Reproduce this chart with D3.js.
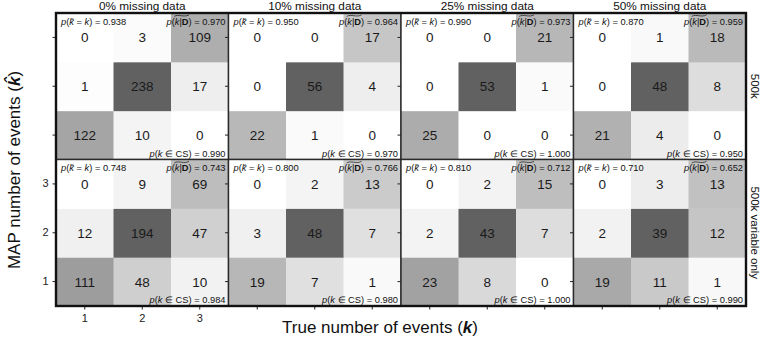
<!DOCTYPE html>
<html><head><meta charset="utf-8">
<script src="https://cdn.jsdelivr.net/npm/d3@7/dist/d3.min.js"></script>
<style>body{margin:0;background:#fff}svg{display:block}</style>
</head><body><svg id="c" width="760" height="340"></svg>
<script>
// ---- data ----
const missingLevels = ["0% missing data", "10% missing data", "25% missing data", "50% missing data"];
const rowLabels = ["500k", "500k variable only"];
const kValues = [1, 2, 3];
const tickLabels = ["1", "2", "3"];
// counts[panel][khat-1][k-1]
const counts500k = [
  [[122, 10, 0], [1, 238, 17], [0, 3, 109]],
  [[22, 1, 0], [0, 56, 4], [0, 0, 17]],
  [[25, 0, 0], [0, 53, 1], [0, 0, 21]],
  [[21, 4, 0], [0, 48, 8], [0, 1, 18]]
];
const countsVarOnly = [
  [[111, 48, 10], [12, 194, 47], [0, 9, 69]],
  [[19, 7, 1], [3, 48, 7], [0, 2, 13]],
  [[23, 8, 0], [2, 43, 7], [0, 2, 15]],
  [[19, 11, 1], [2, 39, 12], [0, 3, 13]]
];
const pExact500k = ["0.938", "0.950", "0.990", "0.870"];
const pMode500k = ["0.970", "0.964", "0.973", "0.959"];
const pCS500k = ["0.990", "0.970", "1.000", "0.950"];
const pExactVarOnly = ["0.748", "0.800", "0.810", "0.710"];
const pModeVarOnly = ["0.743", "0.766", "0.712", "0.652"];
const pCSVarOnly = ["0.984", "0.980", "1.000", "0.990"];

const rows = [
  {label: rowLabels[0], counts: counts500k, pe: pExact500k, pm: pMode500k, pc: pCS500k},
  {label: rowLabels[1], counts: countsVarOnly, pe: pExactVarOnly, pm: pModeVarOnly, pc: pCSVarOnly}
];

// ---- layout ----
const svg = d3.select("#c");
const L = 56, R = 746, T = 13, B = 306;
const colX = d3.scaleBand().domain(d3.range(missingLevels.length)).range([L, R]);
const rowY = d3.scaleBand().domain(d3.range(rows.length)).range([T, B]);
const pw = colX.bandwidth(), ph = rowY.bandwidth();
const cx = d3.scaleBand().domain(kValues).range([0, pw]);
const cy = d3.scaleBand().domain([3, 2, 1]).range([0, ph]);
const numFont = "'Liberation Sans', Arial, sans-serif";
const smallFont = "'Liberation Sans', Arial, sans-serif";
const aSize = 9.3;

rows.forEach((row, ri) => {
  row.counts.forEach((mat, pi) => {
    const g = svg.append("g").attr("transform", `translate(${colX(pi)},${rowY(ri)})`);
    const max = d3.max(mat.flat());
    const col = d3.scalePow().exponent(0.85).domain([0, max]).range([255, 97]);
    const cells = [];
    mat.forEach((r, i) => r.forEach((v, j) => cells.push({kh: kValues[i], k: kValues[j], v})));
    g.selectAll("rect.cell").data(cells).join("rect")
      .attr("x", d => cx(d.k)).attr("y", d => cy(d.kh))
      .attr("width", cx.bandwidth() + 0.5).attr("height", cy.bandwidth() + 0.5)
      .attr("fill", d => { const c = Math.round(col(d.v)); return `rgb(${c},${c},${c})`; });
    g.selectAll("text.num").data(cells).join("text")
      .attr("x", d => cx(d.k) + cx.bandwidth() / 2)
      .attr("y", d => cy(d.kh) + cy.bandwidth() / 2 + 5)
      .attr("text-anchor", "middle").attr("font-family", numFont).attr("font-size", 13.5)
      .attr("fill", "#1a1a1a").text(d => d.v);

    // annotations
    const a1 = g.append("text").attr("x", 5).attr("y", 11.5).attr("font-family", smallFont)
      .attr("font-size", aSize).attr("fill", "#111");
    a1.append("tspan").attr("font-style", "italic").text("p");
    a1.append("tspan").text("(");
    a1.append("tspan").attr("font-style", "italic").text("k\u0302");
    a1.append("tspan").text(" = ");
    a1.append("tspan").attr("font-style", "italic").text("k");
    a1.append("tspan").text(") = " + row.pe[pi]);

    const a2 = g.append("text").attr("x", pw - 3).attr("y", 11.5).attr("text-anchor", "end")
      .attr("font-family", smallFont).attr("font-size", aSize).attr("fill", "#111");
    a2.append("tspan").attr("font-style", "italic").text("p");
    a2.append("tspan").text("(");
    a2.append("tspan").attr("font-style", "italic").text("k");
    a2.append("tspan").text("|");
    a2.append("tspan").attr("font-weight", "bold").text("D");
    a2.append("tspan").text(") = " + row.pm[pi]);
    const n = a2.node();
    try {
      const s = n.getStartPositionOfChar(2), e = n.getEndPositionOfChar(4);
      const x0 = s.x - 0.5, x1 = e.x + 0.5, y0 = 11.5 - 9.3, w = x1 - x0;
      g.append("path").attr("d", `M${x0},${y0 + 1.2} C${x0 + w * 0.3},${y0 - 1.5} ${x0 + w * 0.65},${y0 + 2.6} ${x1},${y0 - 0.3}`)
        .attr("fill", "none").attr("stroke", "#111").attr("stroke-width", 0.7);
    } catch (err) {}

    const a3 = g.append("text").attr("x", pw - 3).attr("y", ph - 3).attr("text-anchor", "end")
      .attr("font-family", smallFont).attr("font-size", aSize).attr("fill", "#111");
    a3.append("tspan").attr("font-style", "italic").text("p");
    a3.append("tspan").text("(");
    a3.append("tspan").attr("font-style", "italic").text("k");
    a3.append("tspan").text(" \u2208 CS) = " + row.pc[pi]);

    // y ticks (outward left)
    const yAxis = d3.axisLeft(cy).tickSize(3.5).tickPadding(4)
      .tickFormat((d, i) => (pi === 0 && ri === rows.length - 1) ? tickLabels[kValues.indexOf(d)] : "");
    const ya = g.append("g").call(yAxis);
    ya.select(".domain").remove();
    ya.selectAll("line").attr("stroke", "#222").attr("stroke-width", 1);
    ya.selectAll("text").attr("font-family", numFont).attr("font-size", 11).attr("fill", "#222");
    if (pi === 0 && ri === 0) ya.selectAll("text").remove();

    if (ri === rows.length - 1) {
      const xAxis = d3.axisBottom(cx).tickSize(3.5).tickPadding(5)
        .tickFormat(d => pi === 0 ? tickLabels[kValues.indexOf(d)] : "");
      const xa = g.append("g").attr("transform", `translate(0,${ph})`).call(xAxis);
      xa.select(".domain").remove();
      xa.selectAll("line").attr("stroke", "#222").attr("stroke-width", 1);
      xa.selectAll("text").attr("font-family", numFont).attr("font-size", 11).attr("fill", "#222");
    }

    g.append("rect").attr("width", pw).attr("height", ph).attr("fill", "none")
      .attr("stroke", "#2a2a2a").attr("stroke-width", 1.4);
  });

  // right row label
  const ymid = rowY(ri) + ph / 2;
  svg.append("text").attr("transform", `translate(751,${ymid}) rotate(90)`)
    .attr("text-anchor", "middle").attr("font-family", numFont).attr("font-size", 11.5)
    .attr("fill", "#111").text(row.label);
});

// column titles
svg.selectAll("text.title").data(missingLevels).join("text")
  .attr("x", (d, i) => colX(i) + pw / 2).attr("y", 9.8)
  .attr("text-anchor", "middle").attr("font-family", numFont).attr("font-size", 11.8)
  .attr("fill", "#111").text(d => d);

// outer frame
svg.append("rect").attr("x", L).attr("y", T).attr("width", R - L).attr("height", B - T)
  .attr("fill", "none").attr("stroke", "#111").attr("stroke-width", 2.4);

// axis labels
const xl = svg.append("text").attr("x", 380).attr("y", 333).attr("text-anchor", "middle")
  .attr("font-family", numFont).attr("font-size", 17).attr("fill", "#111");
xl.append("tspan").text("True number of events (");
xl.append("tspan").attr("font-style", "italic").attr("font-weight", "bold").text("k");
xl.append("tspan").text(")");

const yl = svg.append("text").attr("transform", "translate(20,170) rotate(-90)").attr("text-anchor", "middle")
  .attr("font-family", numFont).attr("font-size", 17).attr("fill", "#111");
yl.append("tspan").text("MAP number of events (");
yl.append("tspan").attr("font-style", "italic").attr("font-weight", "bold").text("k\u0302");
yl.append("tspan").text(")");
</script></body></html>
